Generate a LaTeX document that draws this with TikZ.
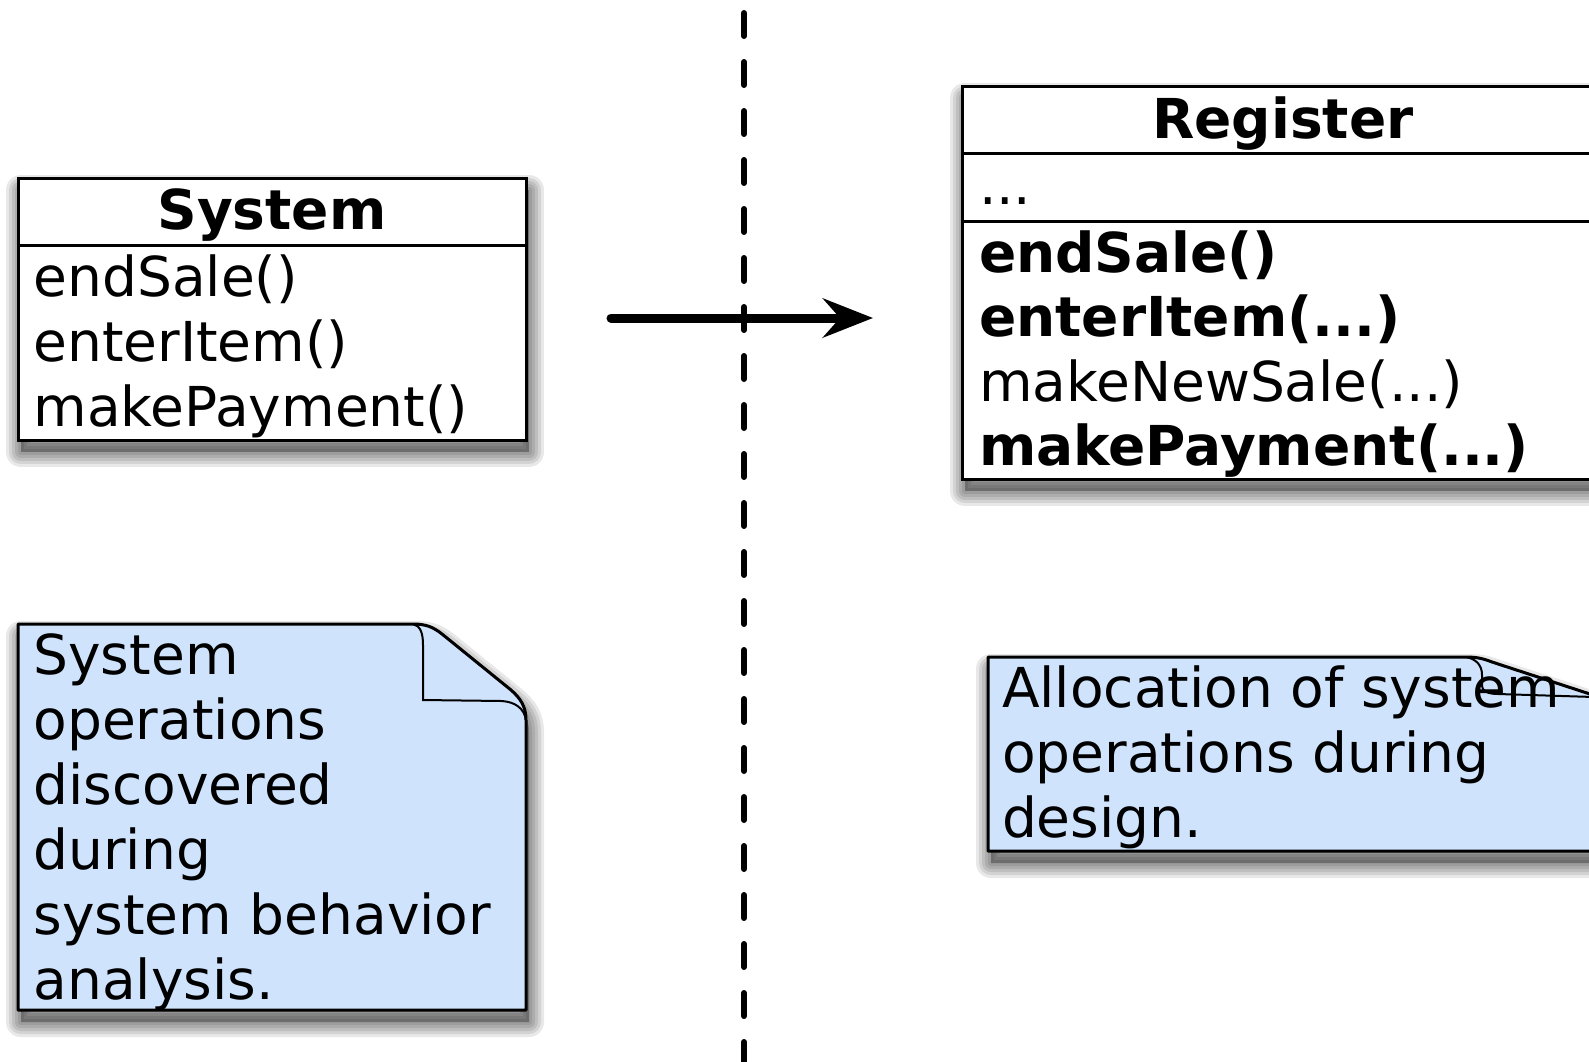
\documentclass[tikz,border=0pt]{standalone}
\usepackage{fontspec}
\setmainfont{DejaVu Sans}
\usetikzlibrary{arrows.meta}
\definecolor{notefill}{RGB}{207,228,252}
\newcommand{\softshadow}[1]{%
  \begin{scope}[shift={(3,12)}]
    \fill[black, opacity=0.3] #1;
    \foreach \w in {30,24,18,12,6}{\draw[black, opacity=0.09, line width=\w pt, line join=round] #1;}
  \end{scope}}
\def\sysbox{(18,178) rectangle (526,440)}
\def\regbox{(962,86) rectangle (1610,479)}
\def\leftnote{(18,624) -- (413,624) .. controls (426,624) and (433,627) .. (442,634) -- (511,690) .. controls (520,698) and (526,706) .. (526,720) -- (526,1010) -- (18,1010) -- cycle}
\def\leftflap{(413,624) .. controls (420,626) and (423,632) .. (423,645) -- (423,700) -- (502,701) .. controls (515,702) and (524,708) .. (526,720)}
\def\rightnote{(988,657) -- (1466,657) .. controls (1478,657) and (1484,659) .. (1492,662) -- (1596,696) .. controls (1602,698) and (1606,702) .. (1606,710) -- (1606,851) -- (988,851) -- cycle}
\def\rightflap{(1466,657) .. controls (1476,659) and (1482,665) .. (1482,675) -- (1482,686) .. controls (1482,691) and (1488,694) .. (1498,694) -- (1594,697) .. controls (1600,697) and (1606,702) .. (1606,710)}
\begin{document}
\begin{tikzpicture}[x=1pt,y=-1pt,
  every node/.style={font=\fontsize{55}{65}\selectfont, inner sep=0pt, outer sep=0pt},
  classbox/.style={fill=white, draw=black, line width=3pt},
  divline/.style={draw=black, line width=3pt},
  notebody/.style={fill=notefill, draw=black, line width=3pt, line join=round},
  flapline/.style={draw=black, line width=2pt},
  method/.style={anchor=base west},
  boldmethod/.style={anchor=base west, font=\fontsize{55}{65}\selectfont\bfseries},
  header/.style={anchor=base, font=\fontsize{55}{65}\selectfont\bfseries},
  notetext/.style={anchor=north west, align=left},
  sepline/.style={draw=black, line width=6pt, dash pattern=on 23pt off 26pt, line cap=round},
  flow/.style={draw=black, line width=9pt, line cap=round, -{Stealth[length=50pt,width=39pt,inset=17pt]}},
]
\useasboundingbox (0,0) rectangle (1589,1061);
\clip (0,0) rectangle (1589,1061);
\fill[white] (0,0) rectangle (1589,1061);

% separator and flow arrow
\coordinate (septop) at (744,13);
\coordinate (sepbot) at (744,1080);
\draw[sepline] (septop) -- (sepbot);
\coordinate (flowstart) at (611,318);
\coordinate (flowend) at (873,318);
\draw[flow] (flowstart) -- (flowend);

% System class
\softshadow{\sysbox}
\path[classbox] \sysbox;
\draw[divline] (18,245) -- (526,245);
\node[header] (systitle) at (272,229) {System};
\node[method] (sysm1) at (33.5,296) {endSale()};
\node[method] (sysm2) at (33.5,361) {enterItem()};
\node[method] (sysm3) at (33.5,426) {makePayment()};

% Register class
\softshadow{\regbox}
\path[classbox] \regbox;
\draw[divline] (962,153) -- (1610,153);
\draw[divline] (962,221) -- (1610,221);
\node[header] (regtitle) at (1283,138) {Register};
\node[method] (regattr) at (979,204) {...};
\node[boldmethod] (regm1) at (979,272) {endSale()};
\node[boldmethod] (regm2) at (979,336.5) {enterItem(...)};
\node[method] (regm3) at (979,401) {makeNewSale(...)};
\node[boldmethod] (regm4) at (979,465.5) {makePayment(...)};

% left note
\softshadow{\leftnote}
\path[notebody] \leftnote;
\draw[flapline] \leftflap;
\node[notetext] (leftnotetext) at (33.5,624) {\rule{0pt}{50pt}System\\operations\\discovered\\during\\system behavior\\analysis.};

% right note
\softshadow{\rightnote}
\path[notebody] \rightnote;
\draw[flapline] \rightflap;
\node[notetext] (rightnotetext) at (1002,657) {\rule{0pt}{50pt}Allocation of system\\operations during\\design.};
\end{tikzpicture}
\end{document}
